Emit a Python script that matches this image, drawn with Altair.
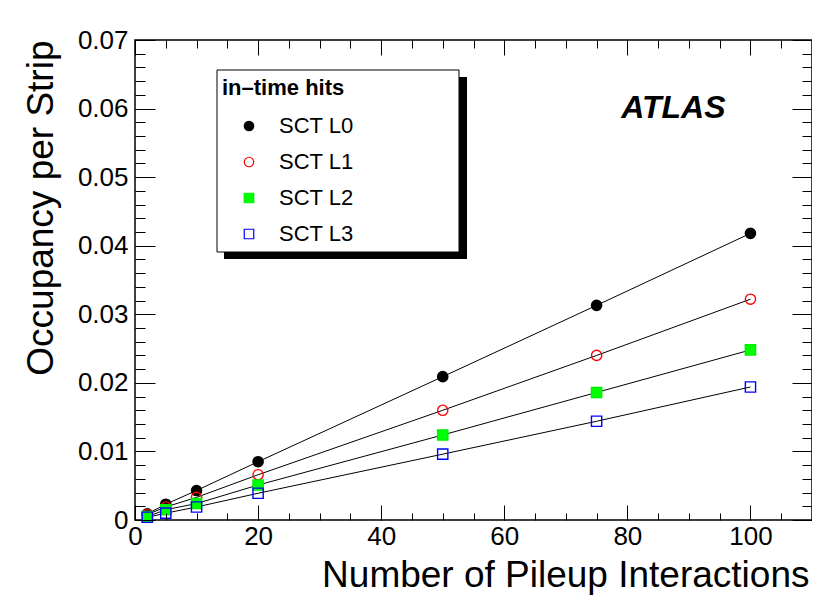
import altair as alt
import pandas as pd

FONT = "Liberation Sans"

# ---- data ----
pileup = [2, 5, 10, 20, 50, 75, 100]
series_names = ["SCT L0", "SCT L1", "SCT L2", "SCT L3"]
sct_l0 = [0.0009, 0.0023, 0.0043, 0.0085, 0.0209, 0.0313, 0.0418]
sct_l1 = [0.0008, 0.0019, 0.0033, 0.0066, 0.0160, 0.0240, 0.0322]
sct_l2 = [0.0005, 0.0015, 0.0024, 0.0051, 0.0124, 0.0186, 0.0248]
sct_l3 = [0.0004, 0.0010, 0.0019, 0.0039, 0.0096, 0.0144, 0.0194]

marker_stroke = ["#000000", "#ff0000", "#00ee00", "#0000ff"]
marker_fill = ["#000000", "transparent", "#00ff00", "transparent"]
marker_shape = ["circle", "circle", "square", "square"]

x_major = [0, 20, 40, 60, 80, 100]
x_minor = [0, 5, 10, 15, 20, 25, 30, 35, 40, 45, 50, 55, 60, 65, 70, 75, 80,
           85, 90, 95, 100, 105, 110]
y_major = [0, 0.01, 0.02, 0.03, 0.04, 0.05, 0.06, 0.07]
y_minor = [0, 0.002, 0.004, 0.006, 0.008, 0.01, 0.012, 0.014, 0.016, 0.018,
           0.02, 0.022, 0.024, 0.026, 0.028, 0.03, 0.032, 0.034, 0.036, 0.038,
           0.04, 0.042, 0.044, 0.046, 0.048, 0.05, 0.052, 0.054, 0.056, 0.058,
           0.06, 0.062, 0.064, 0.066, 0.068, 0.07]

atlas_label = ["ATLAS"]
atlas_x = [79.0]
atlas_y = [0.0586]

legend_title = "in\u2013time hits"

# ---- tables ----
rows = []
for name, vals in zip(series_names, [sct_l0, sct_l1, sct_l2, sct_l3]):
    for p, v in zip(pileup, vals):
        rows.append({"pileup": p, "occupancy": v, "series": name})
df = pd.DataFrame(rows)
df_text = pd.DataFrame({"pileup": atlas_x, "occupancy": atlas_y, "label": atlas_label})
df_box = pd.DataFrame({"box": ["legend"]})

xscale = alt.Scale(domain=[0, 110], nice=False, zero=False)
yscale = alt.Scale(domain=[0, 0.07], nice=False, zero=False)

common_tick = dict(domain=False, grid=False, ticks=True, tickColor="black",
                   tickWidth=1, zindex=1)


def x_axis(orient, values, size, labels=False, title=None):
    kw = dict(common_tick)
    kw.update(orient=orient, values=values, tickSize=size, offset=-size,
              labels=labels)
    if labels:
        kw.update(labelFont=FONT, labelFontSize=26, labelColor="black",
                  labelPadding=3, labelFlush=False, format="d")
    if title:
        kw.update(title=title, titleFont=FONT, titleFontSize=37,
                  titleFontWeight="normal", titleColor="black",
                  titleAnchor="end", titleAlign="right", titleX=674,
                  titlePadding=8)
    else:
        kw.update(title=None)
    return alt.Axis(**kw)


def y_axis(orient, values, size, labels=False, title=None):
    kw = dict(common_tick)
    kw.update(orient=orient, values=values, tickSize=size, offset=-size,
              labels=labels)
    if labels:
        kw.update(labelFont=FONT, labelFontSize=26, labelColor="black",
                  labelPadding=7, format="~g")
    if title:
        kw.update(title=title, titleFont=FONT, titleFontSize=37,
                  titleFontWeight="normal", titleColor="black",
                  titleAnchor="end", titlePadding=17)
    else:
        kw.update(title=None)
    return alt.Axis(**kw)


main_legend = alt.Legend(
    orient="none", legendX=82, legendY=33, padding=5, title=legend_title,
    titleFont=FONT, titleFontSize=22, titleFontWeight="bold", titlePadding=15,
    titleColor="black", titleLimit=400,
    labelFont=FONT, labelFontSize=22, labelColor="black", rowPadding=14,
    symbolSize=90, symbolStrokeWidth=1.2, symbolOffset=16, labelOffset=19,
)

# legend frame and its drop shadow (decoration, in pixels)
shadow_box = alt.Chart(df_box).mark_rect(color="black").encode(
    x=alt.value(89), x2=alt.value(332), y=alt.value(37), y2=alt.value(219)
)
legend_box = alt.Chart(df_box).mark_rect(
    fill="white", stroke="black", strokeWidth=1
).encode(
    x=alt.value(82), x2=alt.value(324), y=alt.value(30), y2=alt.value(212)
)

lines = alt.Chart(df).mark_line(color="black", strokeWidth=1).encode(
    x=alt.X("pileup:Q", scale=xscale,
            axis=x_axis("bottom", x_major, 15, labels=True,
                        title="Number of Pileup Interactions")),
    y=alt.Y("occupancy:Q", scale=yscale,
            axis=y_axis("left", y_major, 20, labels=True,
                        title="Occupancy per Strip")),
    detail="series:N",
)

points = alt.Chart(df).mark_point(size=105, strokeWidth=1.4, opacity=1).encode(
    x=alt.X("pileup:Q", scale=xscale, axis=x_axis("bottom", x_minor, 7)),
    y=alt.Y("occupancy:Q", scale=yscale, axis=y_axis("left", y_minor, 10)),
    stroke=alt.Stroke("series:N", scale=alt.Scale(domain=series_names, range=marker_stroke),
                      legend=main_legend),
    fill=alt.Fill("series:N", scale=alt.Scale(domain=series_names, range=marker_fill),
                  legend=main_legend),
    shape=alt.Shape("series:N", scale=alt.Scale(domain=series_names, range=marker_shape),
                    legend=main_legend),
)

atlas = alt.Chart(df_text).mark_text(
    font=FONT, fontSize=32, fontStyle="italic", fontWeight="bold",
    align="left", baseline="alphabetic", color="black",
).encode(
    x=alt.X("pileup:Q", scale=xscale, axis=x_axis("top", x_major, 15)),
    y=alt.Y("occupancy:Q", scale=yscale, axis=y_axis("right", y_major, 20)),
    text="label:N",
)

minor_top_right = alt.Chart(df).mark_point(opacity=0).encode(
    x=alt.X("pileup:Q", scale=xscale, axis=x_axis("top", x_minor, 8)),
    y=alt.Y("occupancy:Q", scale=yscale, axis=y_axis("right", y_minor, 10)),
)

chart = alt.layer(
    shadow_box, legend_box, lines, points, atlas, minor_top_right
).resolve_axis(
    x="independent", y="independent"
).properties(
    width=677, height=480,
    padding={"left": 127, "top": 32, "right": 0, "bottom": 76},
    autosize=alt.AutoSizeParams(type="none"),
    background="white",
).configure_view(stroke="black", strokeWidth=1.5)

chart.save("out.html", embed_options={"renderer": "svg", "actions": False})
